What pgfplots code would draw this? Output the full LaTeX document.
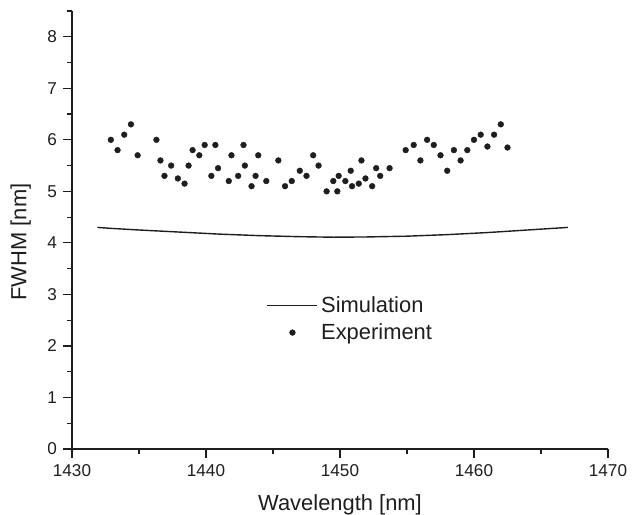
\documentclass[border=0pt]{standalone}
\usepackage{fontspec}
\setmainfont{Liberation Sans}
\usepackage{pgfplots}
\pgfplotsset{compat=1.18}
\definecolor{ink}{RGB}{30,30,30}
\pgfplotsset{
  simleg/.style={legend image code/.code={\draw[##1] (0bp,0bp) -- (50bp,0bp);}},
  expleg/.style={legend image code/.code={\draw[mark repeat=2,mark phase=2,##1] plot coordinates {(0bp,0bp) (25bp,0bp) (50bp,0bp)};}},
}
\begin{document}
\begin{tikzpicture}
\begin{axis}[
  scale only axis,
  width=536bp, height=438bp,
  xmin=1430, xmax=1470, ymin=0, ymax=8.5,
  axis x line=bottom, axis y line=left,
  axis line style={-, line width=1.2bp, ink},
  xtick={1430,1440,...,1470},
  minor xtick={1435,1445,...,1465},
  ytick={0,1,...,8},
  minor ytick={0.5,1.5,...,8},
  tick align=outside,
  major tick length=9bp, minor tick length=5bp,
  tick style={line width=1.2bp, ink},
  /pgf/number format/assume math mode=true,
  /pgf/number format/1000 sep={},
  tick label style={font=\fontsize{17.2}{20}\selectfont, text=ink, inner sep=0pt},
  xticklabel style={anchor=north, yshift=-6bp},
  yticklabel style={anchor=east, xshift=-6bp},
  label style={font=\fontsize{22}{26}\selectfont, text=ink, inner sep=0pt},
  xlabel={Wavelength [nm]},
  ylabel={FWHM [nm]},
  xlabel style={at={(axis description cs:0.5,0)}, anchor=north, yshift=-45bp},
  ylabel style={at={(axis description cs:0,0.4725)}, anchor=south, yshift=41bp},
  legend cell align=left,
  legend style={draw=none, fill=none, at={(0.363,0.297)}, anchor=west,
    font=\fontsize{22}{26}\selectfont, text=ink, inner sep=0pt,
    row sep=4bp, nodes={inner sep=3bp}},
  clip=false,
]
\coordinate (SW) at (rel axis cs:0,0);
\coordinate (NE) at (rel axis cs:1,1);
\addplot[ink, line width=1.4bp, simleg]
  coordinates {
  (1431.9,4.30) (1433,4.28) (1435,4.25) (1438,4.21) (1441,4.17) (1444,4.14)
  (1447,4.12) (1449.5,4.11) (1452,4.115) (1455,4.13) (1458,4.16)
  (1461,4.20) (1464,4.25) (1467,4.30)};
\addlegendentry{Simulation}
\addplot[only marks, mark=*, mark size=2.9bp, ink, expleg]
  coordinates {
  (1432.9,6.0) (1433.4,5.8) (1433.9,6.1) (1434.4,6.3) (1434.9,5.7)
  (1436.3,6.0) (1436.6,5.6) (1436.9,5.3) (1437.4,5.5) (1437.9,5.25)
  (1438.4,5.15) (1438.7,5.5) (1439.0,5.8) (1439.5,5.7) (1439.9,5.9)
  (1440.4,5.3) (1440.7,5.9) (1440.9,5.45) (1441.7,5.2) (1441.9,5.7)
  (1442.4,5.3) (1442.8,5.9) (1442.9,5.5) (1443.4,5.1) (1443.7,5.3)
  (1443.9,5.7) (1444.5,5.2) (1445.4,5.6) (1445.9,5.1) (1446.4,5.2)
  (1447.0,5.4) (1447.5,5.3) (1448.0,5.7) (1448.4,5.5) (1449.0,5.0)
  (1449.5,5.2) (1449.8,5.0) (1449.9,5.3) (1450.4,5.2) (1450.8,5.4)
  (1450.9,5.1) (1451.4,5.15) (1451.6,5.6) (1451.9,5.25) (1452.4,5.1)
  (1452.7,5.45) (1453.0,5.3) (1453.7,5.45) (1454.9,5.8) (1455.5,5.9)
  (1456.0,5.6) (1456.5,6.0) (1457.0,5.9) (1457.5,5.7) (1458.0,5.4)
  (1458.5,5.8) (1459.0,5.6) (1459.5,5.8) (1460.0,6.0) (1460.5,6.1)
  (1461.0,5.87) (1461.5,6.1) (1462.0,6.3) (1462.5,5.85)};
\addlegendentry{Experiment}
\end{axis}
\pgfresetboundingbox
\path ([shift={(-72bp,-66bp)}]SW) rectangle ([shift={(32bp,11bp)}]NE);
\end{tikzpicture}
\end{document}
